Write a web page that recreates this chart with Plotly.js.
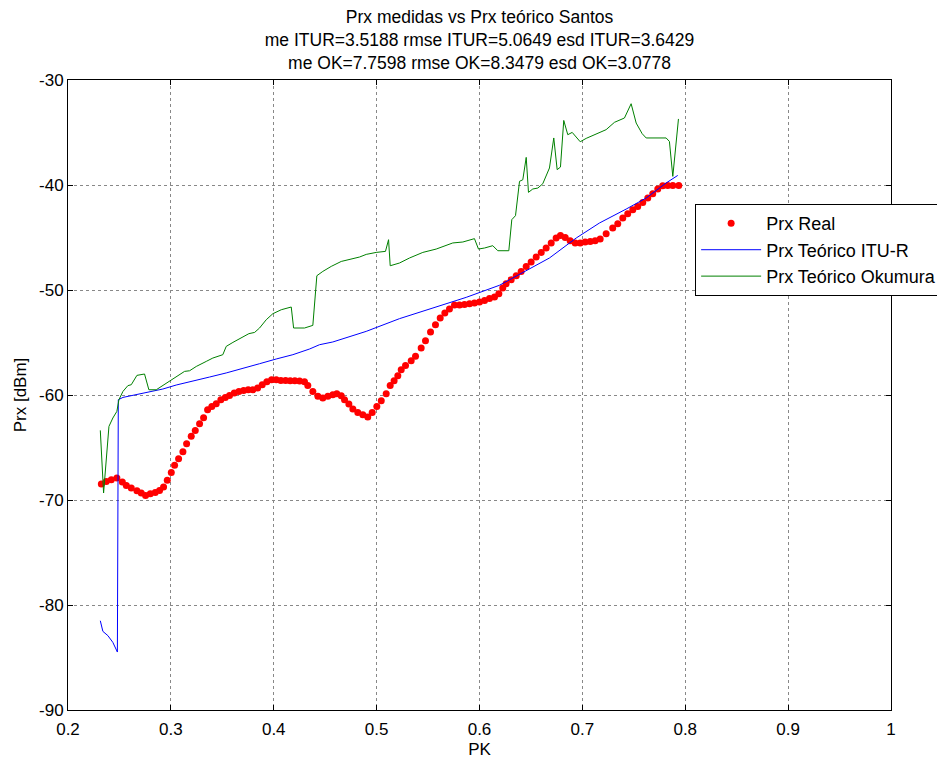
<!DOCTYPE html>
<html>
<head>
<meta charset="utf-8">
<script src="https://cdn.plot.ly/plotly-3.0.1.min.js"></script>
<style>html,body{margin:0;padding:0;background:#fff;}#chart{width:937px;height:760px;}</style>
</head>
<body>
<div id="chart"></div>
<script>
// Prx Real (measured)
const realPK = [0.2324,0.2372,0.2421,0.2475,0.2528,0.2567,0.2615,0.2670,0.2712,0.2754,0.2800,0.2848,0.2890,0.2929,0.2965,0.3004,0.3036,0.3075,0.3117,0.3153,0.3198,0.3237,0.3279,0.3318,0.3357,0.3398,0.3441,0.3486,0.3529,0.3570,0.3616,0.3661,0.3707,0.3752,0.3797,0.3843,0.3888,0.3933,0.3979,0.4024,0.4069,0.4115,0.4160,0.4205,0.4251,0.4299,0.4331,0.4380,0.4429,0.4477,0.4526,0.4574,0.4613,0.4656,0.4688,0.4730,0.4769,0.4817,0.4866,0.4914,0.4957,0.5002,0.5045,0.5093,0.5132,0.5170,0.5206,0.5239,0.5281,0.5336,0.5378,0.5433,0.5475,0.5524,0.5572,0.5618,0.5663,0.5708,0.5757,0.5806,0.5854,0.5903,0.5951,0.6000,0.6049,0.6097,0.6146,0.6188,0.6226,0.6259,0.6308,0.6357,0.6405,0.6454,0.6502,0.6551,0.6600,0.6648,0.6697,0.6745,0.6787,0.6833,0.6881,0.6930,0.6979,0.7027,0.7076,0.7124,0.7173,0.7231,0.7295,0.7344,0.7393,0.7441,0.7490,0.7538,0.7587,0.7636,0.7684,0.7733,0.7781,0.7830,0.7879,0.7937];
const realPrx = [-68.48,-68.23,-68.07,-67.90,-68.29,-68.61,-68.86,-69.11,-69.33,-69.56,-69.40,-69.28,-69.09,-68.76,-68.13,-67.37,-66.70,-66.07,-65.40,-64.64,-63.94,-63.37,-62.73,-62.16,-61.40,-61.09,-60.83,-60.45,-60.23,-60.04,-59.81,-59.66,-59.56,-59.50,-59.50,-59.33,-59.02,-58.73,-58.54,-58.54,-58.61,-58.61,-58.64,-58.64,-58.67,-58.73,-59.09,-59.66,-60.13,-60.29,-60.13,-59.97,-59.88,-60.07,-60.45,-60.86,-61.33,-61.66,-61.88,-62.10,-61.66,-61.09,-60.54,-59.88,-59.09,-58.65,-58.16,-57.59,-57.18,-56.73,-56.32,-55.52,-54.83,-54.00,-53.30,-52.67,-52.19,-51.81,-51.43,-51.43,-51.37,-51.30,-51.24,-51.14,-50.99,-50.80,-50.67,-50.35,-49.81,-49.40,-49.02,-48.64,-48.23,-47.75,-47.33,-46.86,-46.42,-46.00,-45.52,-45.05,-44.80,-44.99,-45.30,-45.52,-45.52,-45.43,-45.37,-45.30,-45.14,-44.64,-44.10,-43.69,-43.14,-42.73,-42.35,-42.04,-41.66,-41.24,-40.83,-40.38,-40.07,-40.04,-40.04,-40.04];

// Prx Teórico ITU-R
const ituPK = [0.2314,0.2339,0.2388,0.2436,0.2480,0.2489,0.2534,0.2664,0.2793,0.2922,0.3052,0.3214,0.3376,0.3538,0.3700,0.3862,0.4024,0.4186,0.4348,0.4445,0.4574,0.4899,0.5222,0.5546,0.5871,0.6194,0.6437,0.6680,0.6940,0.7166,0.7426,0.7620,0.7814,0.7927];
const ituPrx = [-81.5,-82.51,-82.92,-83.56,-84.48,-60.45,-60.23,-59.97,-59.69,-59.43,-59.05,-58.64,-58.29,-57.90,-57.43,-57.02,-56.57,-56.16,-55.62,-55.21,-54.95,-53.94,-52.73,-51.71,-50.70,-49.55,-48.23,-46.95,-45.05,-43.62,-42.29,-41.24,-39.81,-39.09];

// Prx Teórico Okumura
const okuPK = [0.2314,0.2346,0.2398,0.2436,0.2475,0.2495,0.2534,0.2582,0.2615,0.2670,0.2744,0.2786,0.2858,0.2987,0.3068,0.3133,0.3182,0.3247,0.3344,0.3408,0.3505,0.3538,0.3603,0.3700,0.3758,0.3814,0.3862,0.3927,0.3991,0.4073,0.4170,0.4193,0.4299,0.4380,0.4419,0.4477,0.4559,0.4656,0.4753,0.4834,0.4899,0.4996,0.5086,0.5116,0.5132,0.5222,0.5320,0.5449,0.5579,0.5740,0.5838,0.5951,0.5990,0.6049,0.6129,0.6178,0.6285,0.6314,0.6350,0.6389,0.6421,0.6454,0.6476,0.6518,0.6567,0.6615,0.6680,0.6722,0.6755,0.6787,0.6819,0.6858,0.6901,0.6979,0.7037,0.7134,0.7231,0.7312,0.7409,0.7474,0.7523,0.7581,0.7620,0.7814,0.7846,0.7879,0.7934];
const okuPrx = [-63.37,-69.33,-62.99,-62.19,-61.56,-60.45,-59.66,-59.11,-59.02,-58.13,-58.00,-59.50,-59.50,-58.70,-58.23,-57.75,-57.69,-57.28,-56.80,-56.48,-56.16,-55.37,-54.99,-54.42,-54.16,-54.04,-53.62,-52.83,-52.26,-51.88,-51.62,-53.62,-53.62,-53.37,-48.64,-48.23,-47.75,-47.28,-47.05,-46.86,-46.61,-46.42,-46.32,-45.21,-47.69,-47.43,-46.95,-46.42,-46.10,-45.52,-45.43,-45.11,-46.10,-46.00,-45.78,-46.26,-46.26,-43.30,-42.92,-39.65,-39.50,-37.37,-40.70,-40.38,-40.29,-39.88,-38.38,-35.52,-38.54,-38.29,-33.85,-35.21,-34.99,-35.88,-35.56,-35.11,-34.73,-34.03,-33.62,-32.26,-34.10,-35.11,-35.52,-35.52,-35.85,-39.18,-33.71];

const seriesNames = ['Prx Real', 'Prx Teórico ITU-R', 'Prx Teórico Okumura'];
const titleLines = ['Prx medidas vs Prx teórico Santos',
  'me ITUR=3.5188 rmse ITUR=5.0649 esd ITUR=3.6429',
  'me OK=7.7598 rmse OK=8.3479 esd OK=3.0778'];
const yTickVals = [-90, -80, -70, -60, -50, -40, -30];
const yTickText = ['-90', '-80', '-70', '-60', '-50', '-40', '-30'];
const xTickVals = [0.2, 0.3, 0.4, 0.5, 0.6, 0.7, 0.8, 0.9, 1];
const xTickText = ['0.2', '0.3', '0.4', '0.5', '0.6', '0.7', '0.8', '0.9', '1'];

const FONT = 'Liberation Sans, Arial, sans-serif';

const traces = [
  {x: realPK, y: realPrx, name: seriesNames[0], type: 'scatter', mode: 'markers',
   marker: {color: '#ff0000', size: 7}},
  {x: ituPK, y: ituPrx, name: seriesNames[1], type: 'scatter', mode: 'lines',
   line: {color: '#0000ff', width: 1}},
  {x: okuPK, y: okuPrx, name: seriesNames[2], type: 'scatter', mode: 'lines',
   line: {color: '#008000', width: 1}}
];

const axisCommon = {
  showline: true, linecolor: '#000', linewidth: 1, mirror: 'ticks',
  ticks: 'inside', ticklen: 5, tickcolor: '#000',
  showgrid: true, gridcolor: '#888', griddash: 'dot', gridwidth: 1,
  zeroline: false, tickfont: {family: FONT, size: 17, color: '#000'}
};

const layout = {
  width: 937, height: 760,
  margin: {l: 68, r: 46, t: 80, b: 50, autoexpand: false},
  paper_bgcolor: '#fff', plot_bgcolor: '#fff',
  font: {family: FONT, color: '#000'},
  title: {text: titleLines.join('<br>'), font: {family: FONT, size: 17.5, color: '#000'},
          x: 0.5, xref: 'paper', yref: 'paper', y: 1, yanchor: 'bottom', pad: {b: 57}},
  xaxis: Object.assign({}, axisCommon, {range: [0.2, 1], tickmode: 'array',
          tickvals: xTickVals, ticktext: xTickText, ticklabelstandoff: 4,
          title: {text: 'PK', font: {family: FONT, size: 17}, standoff: 4}}),
  yaxis: Object.assign({}, axisCommon, {range: [-90, -30], tickmode: 'array',
          tickvals: yTickVals, ticktext: yTickText,
          title: {text: 'Prx [dBm]', font: {family: FONT, size: 17}, standoff: 8}}),
  showlegend: true,
  legend: {x: 0.762, y: 0.803, xanchor: 'left', yanchor: 'top',
           bgcolor: '#fff', bordercolor: '#000', borderwidth: 1,
           font: {family: FONT, size: 18, color: '#000'}, itemwidth: 60, tracegroupgap: 0}
};

Plotly.newPlot('chart', traces, layout, {displayModeBar: false, staticPlot: true});
</script>
</body>
</html>
